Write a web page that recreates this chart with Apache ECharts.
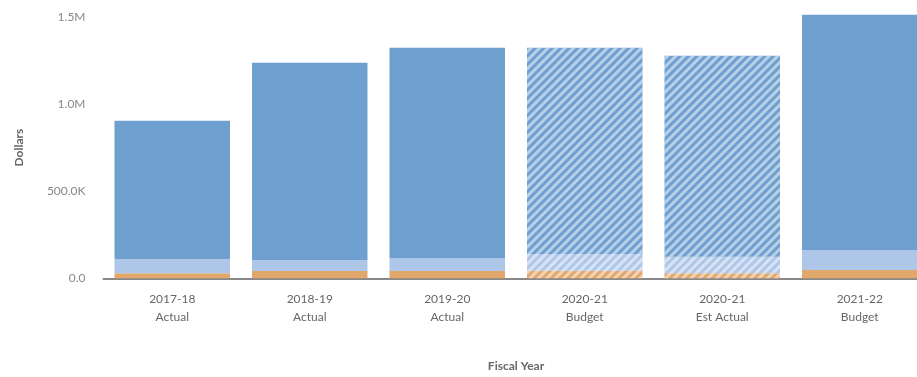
<!DOCTYPE html>
<html>
<head>
<meta charset="utf-8">
<script src="https://cdn.jsdelivr.net/npm/echarts@6/dist/echarts.min.js"></script>
<style>html,body{margin:0;padding:0;background:#fff;}#c{width:917px;height:377px;}</style>
</head>
<body>
<div id="c"></div>
<script>
var categories = ['2017-18\nActual', '2018-19\nActual', '2019-20\nActual', '2020-21\nBudget', '2020-21\nEst Actual', '2021-22\nBudget'];
var orangeValues = [29000, 42000, 42000, 44000, 29000, 48000];
var lightBlueValues = [80000, 63000, 73000, 96000, 95000, 115000];
var darkBlueValues = [795000, 1132000, 1209000, 1184000, 1154000, 1350000];
var hatched = [false, false, false, true, true, false];

var decal = {
  symbol: 'rect', symbolSize: 1, dashArrayX: [1, 0], dashArrayY: [2.5, 2.5],
  rotation: -Math.PI / 4, color: 'rgba(255,255,255,0.5)'
};
function mk(vals) {
  return vals.map(function (v, i) {
    return hatched[i] ? { value: v, itemStyle: { decal: decal } } : v;
  });
}
function fmt(v) {
  if (v === 0) return '0.0';
  if (v >= 1000000) return (v / 1000000).toFixed(1) + 'M';
  return (v / 1000).toFixed(1) + 'K';
}
var FONT = 'Lato';
var chart = echarts.init(document.getElementById('c'));
var common = { type: 'bar', stack: 'a', barCategoryGap: '16%', clip: false, animation: false };
chart.setOption({
  animation: false,
  grid: { left: 103.5, top: 17, width: 825, height: 261.3, outerBoundsMode: 'none', containLabel: false },
  xAxis: {
    type: 'category', data: categories,
    name: 'Fiscal Year', nameLocation: 'middle', nameGap: 82,
    nameTextStyle: { fontFamily: FONT, fontSize: 12, fontWeight: 'bold', color: '#666' },
    axisLine: { lineStyle: { color: '#888', width: 2 } },
    axisTick: { show: false },
    axisLabel: { fontFamily: FONT, fontSize: 12, color: '#666', lineHeight: 18, margin: 12 }
  },
  yAxis: {
    type: 'value', min: 0, max: 1500000, interval: 500000,
    name: 'Dollars', nameLocation: 'middle', nameGap: 78, nameRotate: 90,
    nameTextStyle: { fontFamily: FONT, fontSize: 12, fontWeight: 'bold', color: '#666' },
    axisLine: { show: false }, axisTick: { show: false }, splitLine: { show: false },
    axisLabel: { fontFamily: FONT, fontSize: 12, color: '#888', margin: 18, formatter: fmt }
  },
  series: [
    Object.assign({ name: 'Orange', data: mk(orangeValues), itemStyle: { color: '#e2a76b' } }, common),
    Object.assign({ name: 'Light', data: mk(lightBlueValues), itemStyle: { color: '#aec7e9' } }, common),
    Object.assign({ name: 'Dark', data: mk(darkBlueValues), itemStyle: { color: '#6f9fcf' } }, common)
  ]
});
</script>
</body>
</html>
